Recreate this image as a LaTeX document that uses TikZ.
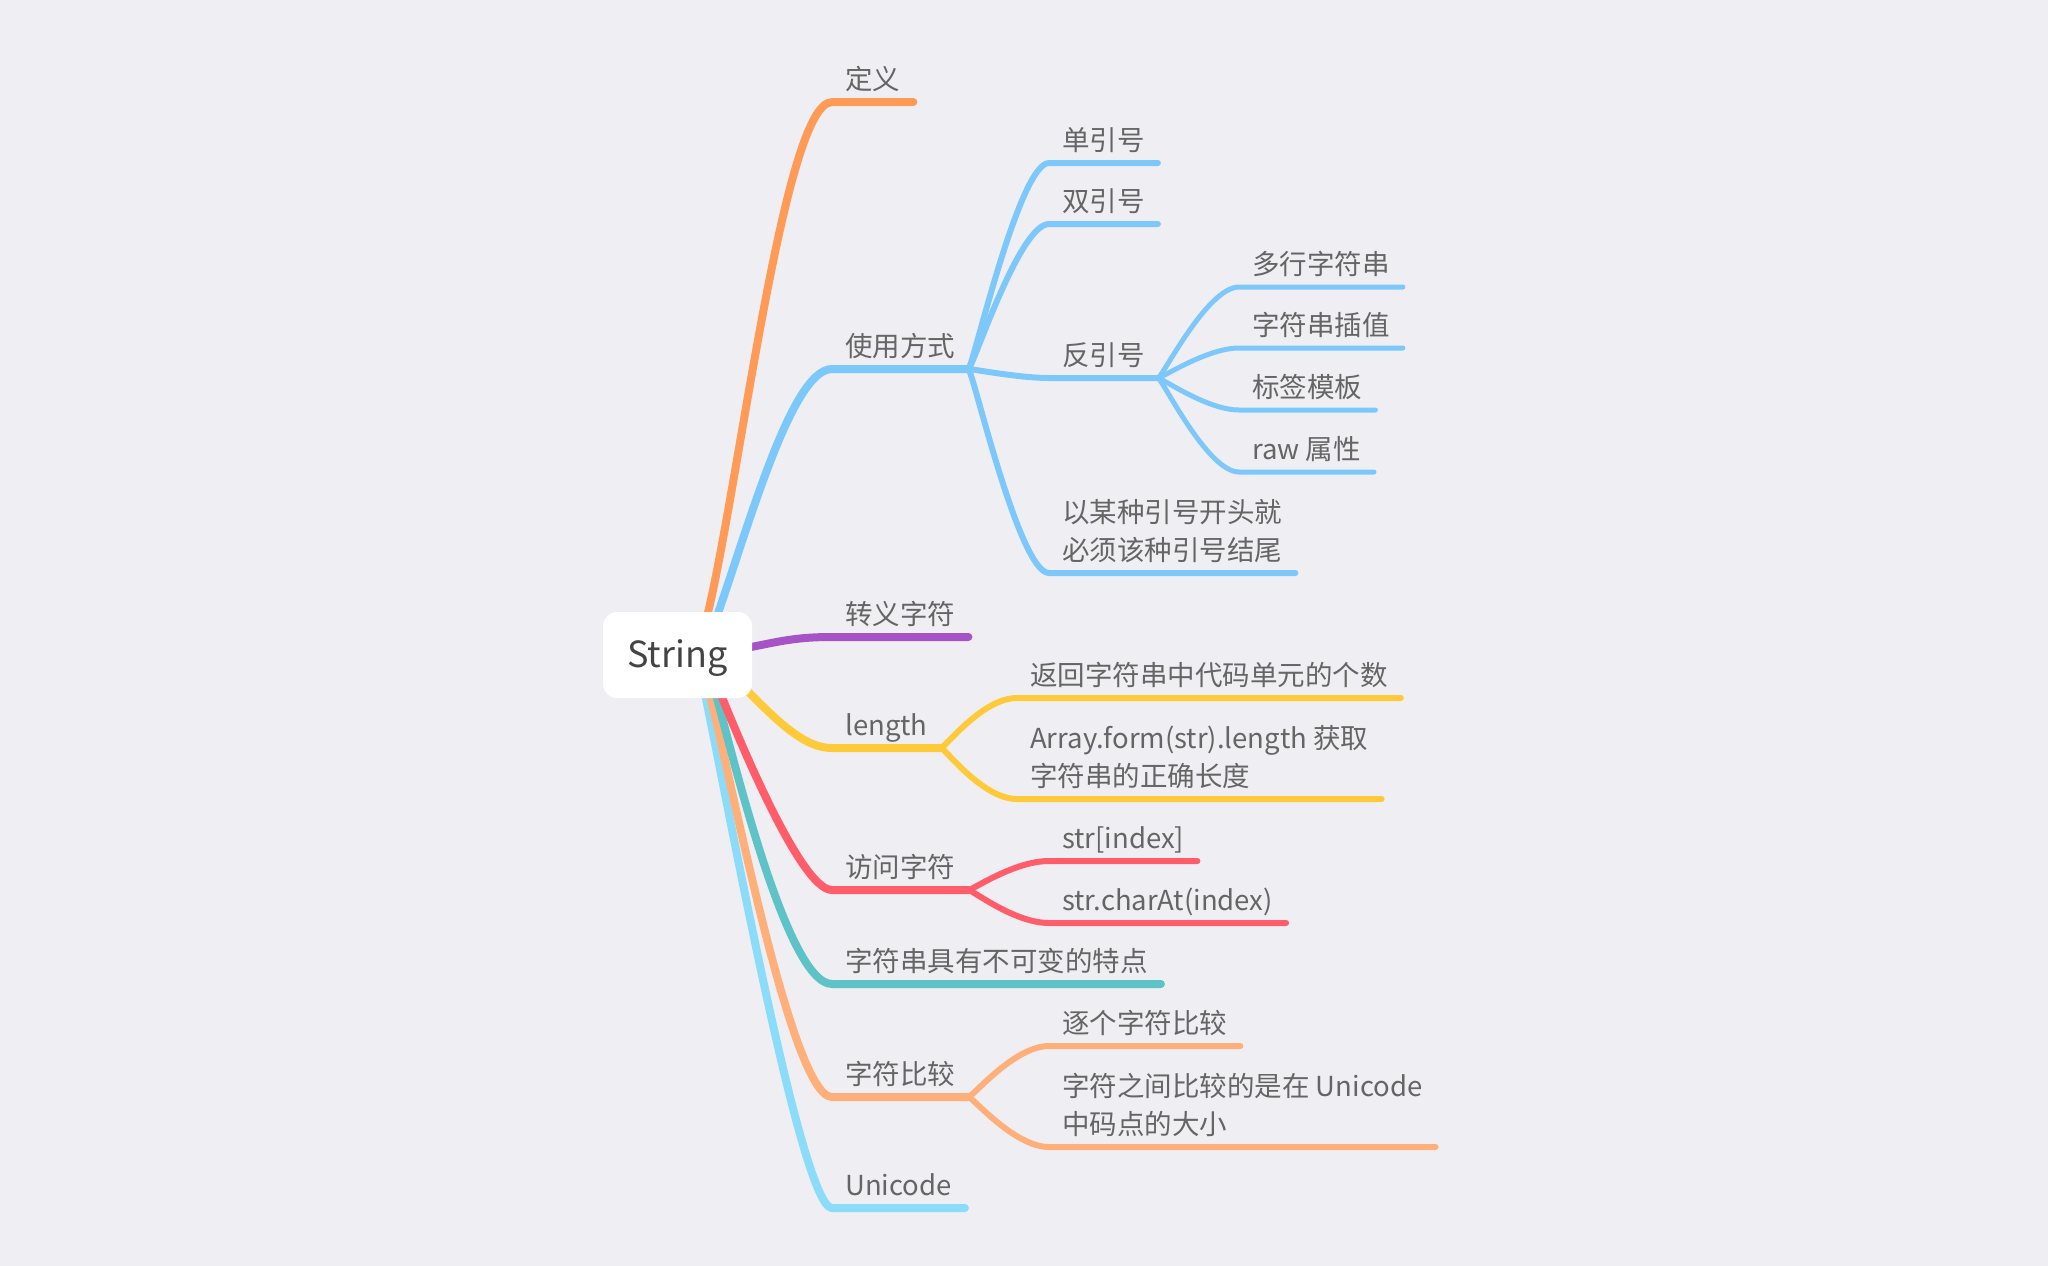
\documentclass[tikz,border=0pt]{standalone}
\usepackage{fontspec}
\setmainfont{Noto Sans CJK SC}
\usetikzlibrary{calc}
\pgfdeclarelayer{bg}
\pgfdeclarelayer{lines}
\pgfsetlayers{bg,lines,main}
\definecolor{bgc}{HTML}{EFEEF3}
\definecolor{txt}{HTML}{656565}
\definecolor{rootc}{HTML}{444444}
\definecolor{cdy}{HTML}{FF9A57}
\definecolor{cuse}{HTML}{7CC8FB}
\definecolor{cesc}{HTML}{A653C7}
\definecolor{clen}{HTML}{FFCA3A}
\definecolor{cacc}{HTML}{FF5D6A}
\definecolor{cimm}{HTML}{5DC3C6}
\definecolor{ccmp}{HTML}{FFB07A}
\definecolor{cuni}{HTML}{8BDCF9}
\newcommand\lblfont{\fontsize{27.5}{38}\selectfont}
\newcommand\twol[2]{\begin{tabular}[b]{@{}l@{}}#1\\#2\end{tabular}}
\tikzset{
  topic/.style={anchor=south west, inner xsep=13, inner ysep=5, text depth=6.9pt, text=txt, font=\lblfont},
  rootbox/.style={fill=white, rounded corners=14, minimum width=149, minimum height=86, inner sep=0, text height=24pt, text depth=0pt, text=rootc, font=\fontsize{36}{42}\selectfont},
  lvA/.style={line width=8, line cap=round, line join=round},
  lvB/.style={line width=6, line cap=round, line join=round},
  lvC/.style={line width=5, line cap=round, line join=round},
}
\begin{document}
\begin{tikzpicture}[x=1pt,y=-1pt]
\useasboundingbox (0,0) rectangle (2048,1266);
\begin{pgfonlayer}{bg}
\fill[bgc] (0,0) rectangle (2048,1266);
\end{pgfonlayer}

\node[rootbox] (root) at (677.5,655) {String};

% level 1
\node[topic] (dy) at (832,102) {定义};
\node[topic] (syfs) at (832,369) {使用方式};
\node[topic] (zy) at (832,637) {转义字符};
\node[topic] (len) at (832,748) {length};
\node[topic] (fw) at (832,890) {访问字符};
\node[topic] (bkb) at (832,984) {字符串具有不可变的特点};
\node[topic] (bj) at (832,1097) {字符比较};
\node[topic] (uni) at (832,1208) {Unicode};

% level 2
\node[topic] (dan) at (1049,163) {单引号};
\node[topic] (shuang) at (1049,224) {双引号};
\node[topic] (fan) at (1049,378) {反引号};
\node[topic] (yimou) at (1049,573) {\twol{以某种引号开头就}{必须该种引号结尾}};
\node[topic] (fh) at (1017,698) {返回字符串中代码单元的个数};
\node[topic] (arr) at (1017,799) {\twol{Array.form(str).length 获取}{字符串的正确长度}};
\node[topic] (idx) at (1049,861) {str[index]};
\node[topic] (cat) at (1049,923) {str.charAt(index)};
\node[topic] (zg) at (1049,1046) {逐个字符比较};
\node[topic] (zf) at (1049,1147) {\twol{字符之间比较的是在 Unicode}{中码点的大小}};

% level 3
\node[topic] (dh) at (1239,287) {多行字符串};
\node[topic] (cz) at (1239,348) {字符串插值};
\node[topic] (bq) at (1239,410) {标签模板};
\node[topic] (raw) at (1239,472) {raw 属性};

\begin{pgfonlayer}{lines}
\coordinate (r1) at (703,632);
\coordinate (r2) at (712,630);
\coordinate (r3) at (735,650);
\coordinate (r4) at (725,670);
\coordinate (r5) at (715,680);
\coordinate (r6) at (712,680);
\coordinate (r7) at (706,680);
\coordinate (r8) at (702,680);

\draw[lvA, cuni] (r8) .. controls +(18,80) and +(-32,0) .. (uni.south west) -- (uni.south east);
\draw[lvA, ccmp] (r7) .. controls +(20,70) and +(-42,0) .. (bj.south west) -- (bj.south east);
\draw[lvA, cimm] (r6) .. controls +(16,55) and +(-47,0) .. (bkb.south west) -- (bkb.south east);
\draw[lvA, cacc] (r5) .. controls +(20,50) and +(-32,0) .. (fw.south west) -- (fw.south east);
\draw[lvA, clen] (r4) .. controls +(35,30) and +(-37,0) .. (len.south west) -- (len.south east);
\draw[lvA, cesc] (r3) .. controls +(40,-7) and +(-42,0) .. (zy.south west) -- (zy.south east);
\draw[lvA, cuse] (r2) .. controls +(33,-90) and +(-42,0) .. (syfs.south west) -- (syfs.south east);
\draw[lvA, cdy] (r1) .. controls +(32,-112) and +(-50,0) .. (dy.south west) -- (dy.south east);

% level 2 connectors
\foreach \c in {dan,shuang,fan,yimou}
  \draw[lvB, cuse] (syfs.south east) .. controls +(4,0) and +(-30,0) .. (\c.south west) -- (\c.south east);
\foreach \c in {fh,arr}
  \draw[lvB, clen] (len.south east) .. controls +(4,0) and +(-35,0) .. (\c.south west) -- (\c.south east);
\foreach \c in {idx,cat}
  \draw[lvB, cacc] (fw.south east) .. controls +(4,0) and +(-35,0) .. (\c.south west) -- (\c.south east);
\foreach \c in {zg,zf}
  \draw[lvB, ccmp] (bj.south east) .. controls +(4,0) and +(-35,0) .. (\c.south west) -- (\c.south east);

% level 3 connectors
\foreach \c in {dh,cz,bq,raw}
  \draw[lvC, cuse] (fan.south east) .. controls +(4,0) and +(-32,0) .. (\c.south west) -- (\c.south east);
\end{pgfonlayer}
\end{tikzpicture}
\end{document}
